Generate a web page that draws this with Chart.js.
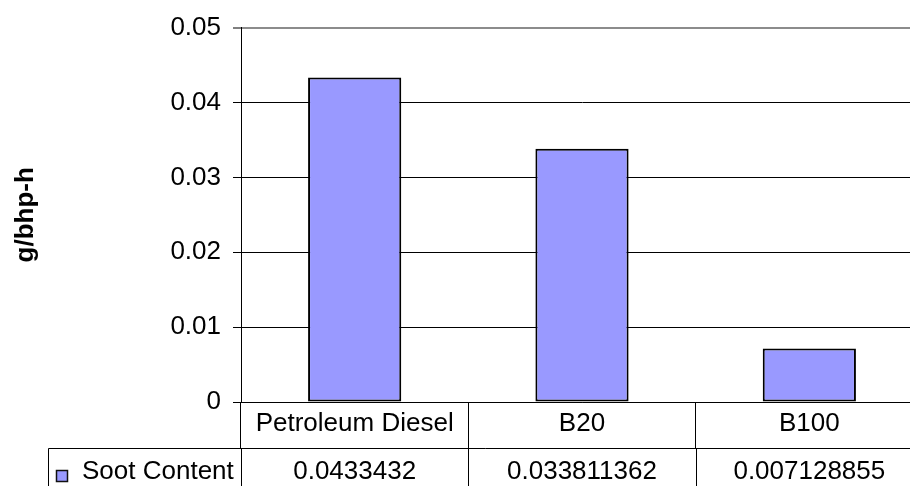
<!DOCTYPE html>
<html>
<head>
<meta charset="utf-8">
<script src="https://cdn.jsdelivr.net/npm/chart.js@4/dist/chart.umd.min.js"></script>
<style>
html,body{margin:0;padding:0;background:#fff;overflow:hidden;}
#wrap{width:923px;height:486px;}
</style>
</head>
<body>
<div id="wrap"><canvas id="c" width="923" height="486"></canvas></div>
<script>
const categories = ['Petroleum Diesel', 'B20', 'B100'];
const seriesName = 'Soot Content';
const sootContent = [0.0433432, 0.033811362, 0.007128855];
const yTickLabels = ['0', '0.01', '0.02', '0.03', '0.04', '0.05'];
const yAxisTitle = 'g/bhp-h';

const FONT = "'Liberation Sans', Arial, sans-serif";
const FONT_SIZE = 26;
const BAR_FILL = '#9999FF';

const dataTablePlugin = {
  id: 'dataTable',
  afterDraw(chart) {
    const ctx = chart.ctx;
    const xs = chart.scales.x;
    const area = chart.chartArea;
    const n = categories.length;
    const step = (xs.right - xs.left) / n;
    const rowTop = Math.round(area.bottom + 46) + 0.5;
    const bottom = chart.height;
    const tableLeft = 48.5;
    ctx.save();
    ctx.strokeStyle = '#000';
    ctx.lineWidth = 1;
    ctx.beginPath();
    ctx.moveTo(tableLeft, rowTop);
    ctx.lineTo(chart.width, rowTop);
    ctx.moveTo(tableLeft, rowTop);
    ctx.lineTo(tableLeft, bottom);
    for (let i = 0; i < n; i++) {
      const bx = Math.round(xs.left + i * step) + 0.5;
      ctx.moveTo(bx, rowTop);
      ctx.lineTo(bx, bottom);
    }
    ctx.stroke();
    // legend key
    const rowMid = 472;
    ctx.fillStyle = BAR_FILL;
    ctx.fillRect(56, 470, 12, 12);
    ctx.lineWidth = 1.5;
    ctx.strokeStyle = '#111';
    ctx.strokeRect(56.5, 470.5, 11, 11);
    ctx.fillStyle = '#000';
    ctx.font = FONT_SIZE + 'px ' + FONT;
    ctx.textBaseline = 'middle';
    ctx.textAlign = 'left';
    ctx.fillText(seriesName, 82, rowMid);
    ctx.textAlign = 'center';
    sootContent.forEach((v, i) => {
      ctx.fillText(String(v), xs.getPixelForValue(i), rowMid);
    });
    ctx.restore();
  }
};

new Chart(document.getElementById('c'), {
  type: 'bar',
  data: {
    labels: categories,
    datasets: [{
      label: seriesName,
      data: sootContent,
      backgroundColor: BAR_FILL,
      borderColor: '#000',
      borderWidth: 2,
      borderSkipped: false,
      barPercentage: 0.41,
      categoryPercentage: 1
    }]
  },
  options: {
    responsive: false,
    devicePixelRatio: 1,
    animation: false,
    layout: { padding: { top: 24, left: 0, right: 0, bottom: 0 } },
    plugins: { legend: { display: false }, tooltip: { enabled: false } },
    scales: {
      x: {
        type: 'category',
        offset: true,
        grid: {
          offset: true,
          drawOnChartArea: false,
          drawTicks: true,
          tickLength: 46,
          color: '#000',
          tickColor: '#000'
        },
        border: { display: true, color: '#000', width: 1 },
        ticks: {
          color: '#000',
          font: { family: FONT, size: FONT_SIZE },
          padding: -40,
          maxRotation: 0,
          autoSkip: false
        },
        afterFit(scale) { scale.height = 84; }
      },
      y: {
        min: 0,
        max: 0.05,
        grid: {
          color: (c) => c.index === 5 ? '#8c8c8c' : '#000',
          lineWidth: (c) => c.index === 5 ? 2 : 1,
          tickColor: '#000',
          tickWidth: 1,
          tickLength: 8
        },
        border: { display: true, color: '#000', width: 1 },
        ticks: {
          stepSize: 0.01,
          color: '#000',
          font: { family: FONT, size: FONT_SIZE },
          padding: 12,
          callback: (v, i) => yTickLabels[i]
        },
        title: {
          display: true,
          text: yAxisTitle,
          color: '#000',
          font: { family: FONT, size: FONT_SIZE, weight: 'bold' },
          padding: { top: 10, bottom: 0 }
        },
        afterFit(scale) { scale.width = 241; }
      }
    }
  },
  plugins: [dataTablePlugin]
});
</script>
</body>
</html>
